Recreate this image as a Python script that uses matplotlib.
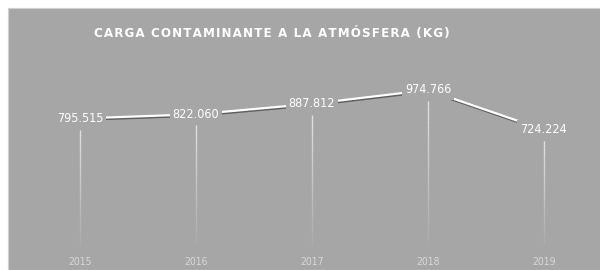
import matplotlib.pyplot as plt
import matplotlib.patheffects as pe
from matplotlib.patches import Rectangle
import numpy as np

years = [2015, 2016, 2017, 2018, 2019]
carga = [795515, 822060, 887812, 974766, 724224]
etiquetas = ["795.515", "822.060", "887.812", "974.766", "724.224"]
titulo = "CARGA CONTAMINANTE A LA ATMÓSFERA (KG)"

fondo = "#a6a6a6"
fuente = dict(family="DejaVu Sans", fontstretch="condensed")

fig = plt.figure(figsize=(6, 2.7), dpi=100)
fig.patch.set_facecolor("white")
fig.patches.append(Rectangle((8 / 600, 0), 1, 1 - 8 / 270, transform=fig.transFigure,
                             facecolor=fondo, edgecolor="#d0d0d0", lw=0.8, zorder=-5))

ax = fig.add_axes([9 / 600, 0, 591 / 600, 1 - 9 / 270])
ax.set_facecolor("none")
ax.set_zorder(5)
ax.set_xlim(2014.388, 2019.483)
ax.set_ylim(-157000, 1484000)
ax.axis("off")

# drop lines, fading toward the bottom
for x, v in zip(years, carga):
    top = v - 70000
    n = 30
    edges = np.linspace(0, top, n + 1)
    for i in range(n):
        a = 0.05 + 0.65 * i / n
        ax.plot([x, x], [edges[i], edges[i + 1]], color="white", alpha=a, lw=1,
                solid_capstyle="butt", zorder=1)

ax.plot(years, carga, color="white", lw=1.6, zorder=2,
        path_effects=[pe.SimpleLineShadow(offset=(0.5, -1.0), shadow_color="#404040", alpha=0.7),
                      pe.Normal()])

for x, v, t in zip(years, carga, etiquetas):
    ax.text(x, v, t, ha="center", va="center", color="white", fontsize=9, zorder=3,
            bbox=dict(boxstyle="square,pad=0.25", facecolor=fondo, edgecolor="none"), **fuente)

for x in years:
    ax.text(x, -105000, str(x), ha="center", va="center", color="#d8d8d8", fontsize=7.5, **fuente)

fig.text(272 / 600, 1 - 33 / 270, "\u200a".join(titulo), ha="center", va="center", color="white",
         fontsize=9.5, fontweight="bold", **fuente)

fig.savefig("out.png", dpi=100, facecolor=fig.get_facecolor())
